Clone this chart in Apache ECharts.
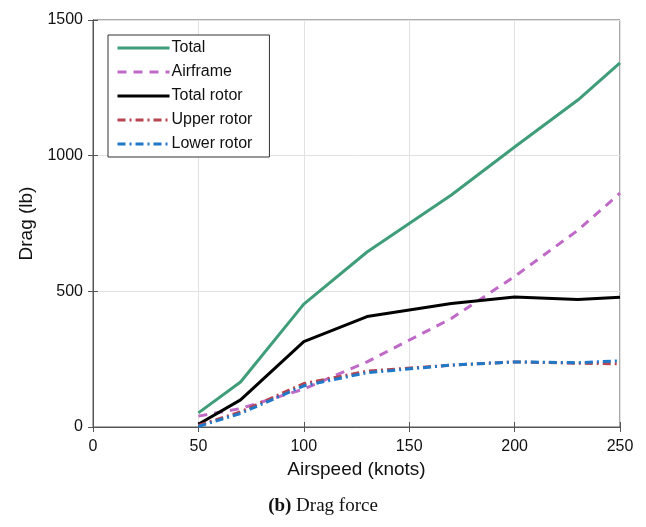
<!DOCTYPE html>
<html><head><meta charset="utf-8">
<script src="https://cdn.jsdelivr.net/npm/echarts@6/dist/echarts.min.js"></script>
<style>html,body{margin:0;padding:0;background:#fff}#c{width:646px;height:527px}</style>
</head><body><div id="c"></div>
<script>
const airspeed = [50, 70, 100, 130, 170, 200, 230, 250];
const total = [52, 166, 453, 645, 855, 1032, 1205, 1342];
const airframe = [40, 68, 140, 240, 400, 555, 725, 862];
const totalRotor = [10, 100, 315, 407, 455, 479, 470, 478];
const upperRotor = [6, 56, 160, 206, 228, 240, 235, 233];
const lowerRotor = [2, 50, 152, 200, 228, 240, 237, 244];
const xTicks = [0, 50, 100, 150, 200, 250];
const yTicks = [0, 500, 1000, 1500];

const pairs = a => airspeed.map((x, i) => [x, a[i]]);
const font = 'Liberation Sans, Arial, sans-serif';
function mk(name, data, color, type, width) {
  return { name, type: 'line', data: pairs(data), symbol: 'none', smooth: false,
    lineStyle: { color, type, width }, itemStyle: { color }, z: 3 };
}
const chart = echarts.init(document.getElementById('c'), null, { renderer: 'canvas' });
const axisCommon = { lineStyle: { color: '#555', width: 1 } };
chart.setOption({
  animation: false,
  backgroundColor: '#fff',
  grid: { left: 93, right: 26, top: 20, bottom: 100, show: true, borderColor: '#555', borderWidth: 1, containLabel: false },
  legend: {
    orient: 'vertical', left: 108, top: 35,
    backgroundColor: '#fff', borderColor: '#333', borderWidth: 1,
    padding: [4, 17, 4, 8], itemGap: 6, itemWidth: 52, itemHeight: 18,
    itemStyle: { opacity: 0 },
    lineStyle: { width: 3 },
    textStyle: { fontFamily: font, fontSize: 16, color: '#111', padding: [0, 0, 0, -3], lineHeight: 18 },
    data: ['Total', 'Airframe', 'Total rotor', 'Upper rotor', 'Lower rotor']
  },
  xAxis: [{
    type: 'value', min: 0, max: 250, interval: 50,
    name: 'Airspeed (knots)', nameLocation: 'middle', nameGap: 32,
    nameTextStyle: { fontFamily: font, fontSize: 19, color: '#111' },
    axisLine: { show: true, ...axisCommon },
    axisTick: { show: true, inside: true, length: 5, lineStyle: { color: '#555' } },
    axisLabel: { fontFamily: font, fontSize: 16, color: '#111', margin: 12,
      formatter: v => xTicks.includes(v) ? String(v) : '' },
    splitLine: { show: true, lineStyle: { color: '#e2e2e2', width: 1 } }
  }, {
    type: 'value', min: 0, max: 250, interval: 50, position: 'top',
    axisLine: { show: true, ...axisCommon },
    axisTick: { show: true, inside: true, length: 5, lineStyle: { color: '#555' } },
    axisLabel: { show: false }, splitLine: { show: false }
  }],
  yAxis: [{
    type: 'value', min: 0, max: 1500, interval: 500,
    name: 'Drag (lb)', nameLocation: 'middle', nameGap: 55,
    nameTextStyle: { fontFamily: font, fontSize: 19, color: '#111' },
    axisLine: { show: true, ...axisCommon },
    axisTick: { show: true, inside: true, length: 5, lineStyle: { color: '#555' } },
    axisLabel: { fontFamily: font, fontSize: 16, color: '#111', margin: 10,
      formatter: v => yTicks.includes(v) ? String(v) : '' },
    splitLine: { show: true, lineStyle: { color: '#e2e2e2', width: 1 } }
  }, {
    type: 'value', min: 0, max: 1500, interval: 500, position: 'right',
    axisLine: { show: true, ...axisCommon },
    axisTick: { show: true, inside: true, length: 5, lineStyle: { color: '#555' } },
    axisLabel: { show: false }, splitLine: { show: false }
  }],
  graphic: [{
    type: 'text', left: 'center', top: 497,
    style: { rich: {
        b: { fontFamily: 'Liberation Serif, Times New Roman, serif', fontSize: 19, fontWeight: 'bold', fill: '#111' },
        n: { fontFamily: 'Liberation Serif, Times New Roman, serif', fontSize: 19, fill: '#111' } },
      text: '{b|(b)}{n| Drag force}' }
  }],
  series: [
    mk('Total', total, '#3f9e79', 'solid', 3),
    mk('Airframe', airframe, '#bf6ac6', [9, 7], 3),
    mk('Total rotor', totalRotor, '#000000', 'solid', 3),
    mk('Upper rotor', upperRotor, '#b8454f', [8, 4, 2, 4], 3),
    mk('Lower rotor', lowerRotor, '#1f78c8', [8, 4, 2, 4], 3)
  ]
});
</script></body></html>
